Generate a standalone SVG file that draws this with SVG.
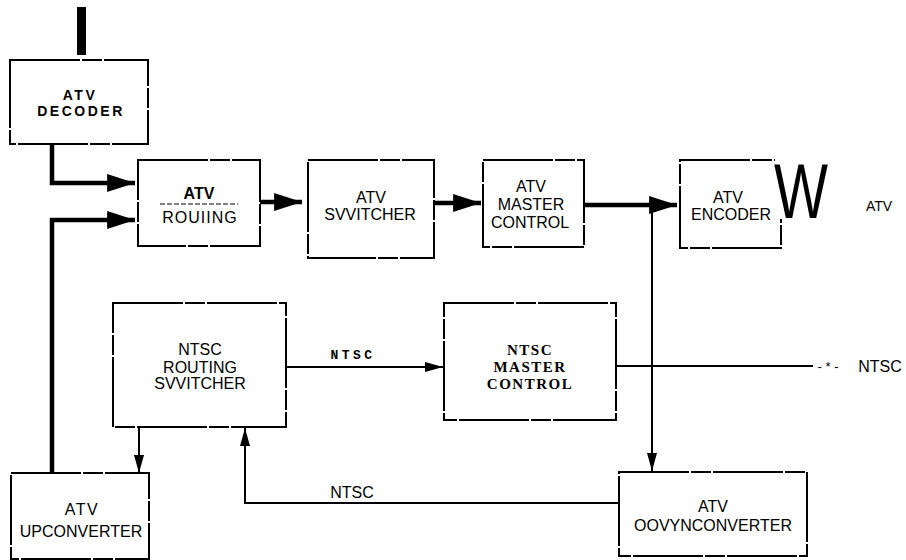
<svg xmlns="http://www.w3.org/2000/svg" width="906" height="560" viewBox="0 0 906 560">
<defs>
<style>
.box{fill:#fff;stroke:#000;stroke-width:2;stroke-dasharray:70 2 20 2}
.t{font-family:"Liberation Sans",Arial,sans-serif;font-size:16px;fill:#000;text-anchor:middle}
.tb{font-family:"Liberation Sans",Arial,sans-serif;font-size:14px;font-weight:bold;fill:#000;text-anchor:middle;letter-spacing:2.5px}
.ts{font-family:"Liberation Serif","Times New Roman",serif;font-size:15px;font-weight:bold;fill:#000;text-anchor:middle;letter-spacing:1.5px}
.tm{font-family:"Liberation Mono","Courier New",monospace;font-size:13px;font-weight:bold;fill:#000;text-anchor:middle;letter-spacing:3.5px}
.thick{fill:none;stroke:#000;stroke-width:4.5}
.thin{fill:none;stroke:#000;stroke-width:2}
</style>
<marker id="ab" markerWidth="6.2" markerHeight="4" refX="6.2" refY="2" orient="auto" markerUnits="strokeWidth"><path d="M0,0 L6.2,2 L0,4 Z" fill="#000"/></marker>
<marker id="as" markerWidth="9" markerHeight="5" refX="9" refY="2.5" orient="auto" markerUnits="strokeWidth"><path d="M0,0 L9,2.5 L0,5 Z" fill="#000"/></marker>
</defs>
<rect width="906" height="560" fill="#fff"/>
<g id="connectors">
<rect x="77" y="7" width="9" height="48" fill="#000"/>
<path class="thick" d="M52,144 V183 H135" marker-end="url(#ab)"/>
<path class="thick" d="M52,473 V220 H135" marker-end="url(#ab)"/>
<path class="thick" d="M260,202 H302" marker-end="url(#ab)"/>
<path class="thick" d="M434,203 H481" marker-end="url(#ab)"/>
<path class="thick" d="M584,205 H677" marker-end="url(#ab)"/>
<path class="thin" d="M652,205 V471" marker-end="url(#as)"/>
<path class="thin" d="M286,367 H443" marker-end="url(#as)"/>
<path class="thin" d="M616,366 H813"/>
<path class="thin" d="M139,427 V473" marker-end="url(#as)"/>
<path class="thin" d="M619,503 H245 V428" marker-end="url(#as)"/>
<text class="tm" x="353" y="359">NTSC</text>
<text class="t" x="352" y="498">NTSC</text>
</g>
<g id="atv-decoder">
<rect class="box" x="10" y="60" width="138" height="84"/>
<text class="tb" x="80" y="100">ATV</text>
<text class="tb" x="81" y="116">DECODER</text>
</g>
<g id="atv-routing">
<rect class="box" x="138" y="160" width="122" height="86"/>
<text class="t" x="199" y="199" font-weight="bold">ATV</text>
<line x1="160" y1="204" x2="238" y2="204" stroke="#000" stroke-width="1" stroke-dasharray="5 2"/>
<text class="t" x="200" y="223" letter-spacing="1">ROUIING</text>
</g>
<g id="atv-switcher">
<rect class="box" x="308" y="160" width="126" height="98"/>
<text class="t" x="371" y="203">ATV</text>
<text class="t" x="370" y="220">SVVITCHER</text>
</g>
<g id="atv-master-control">
<rect class="box" x="483" y="160" width="101" height="87"/>
<text class="t" x="531" y="192" font-size="17">ATV</text>
<text class="t" x="531" y="210" font-size="17">MASTER</text>
<text class="t" x="530" y="228" font-size="17">CONTROL</text>
</g>
<g id="atv-encoder">
<rect class="box" x="680" y="160" width="101" height="88"/>
<rect x="775" y="155" width="12" height="64" fill="#fff"/>
<text class="t" x="728" y="203">ATV</text>
<text class="t" x="731" y="220">ENCODER</text>
<text x="774" y="218" font-family="Liberation Sans,Arial,sans-serif" font-size="77" textLength="54" lengthAdjust="spacingAndGlyphs">W</text>
<text x="879" y="211" font-family="Liberation Sans,Arial,sans-serif" font-size="14" text-anchor="middle">ATV</text>
</g>
<g id="ntsc-routing-switcher">
<rect class="box" x="113" y="303" width="173" height="124"/>
<text class="t" x="200" y="355">NTSC</text>
<text class="t" x="200" y="373">ROUTING</text>
<text class="t" x="200" y="389">SVVITCHER</text>
</g>
<g id="ntsc-master-control">
<rect class="box" x="444" y="303" width="172" height="117"/>
<text class="ts" x="530" y="355">NTSC</text>
<text class="ts" x="530" y="372">MASTER</text>
<text class="ts" x="530" y="389">CONTROL</text>
<text x="828" y="371" font-family="Liberation Sans,Arial,sans-serif" font-size="13" text-anchor="middle">- * -</text>
<text x="880" y="372" font-family="Liberation Sans,Arial,sans-serif" font-size="16" text-anchor="middle">NTSC</text>
</g>
<g id="atv-upconverter">
<rect class="box" x="11" y="473" width="138" height="86"/>
<text class="t" x="82" y="515" letter-spacing="1.5">ATV</text>
<text class="t" x="81" y="537">UPCONVERTER</text>
</g>
<g id="atv-downconverter">
<rect class="box" x="619" y="472" width="188" height="84"/>
<text class="t" x="713" y="512">ATV</text>
<text class="t" x="713" y="531">OOVYNCONVERTER</text>
</g>
</svg>
